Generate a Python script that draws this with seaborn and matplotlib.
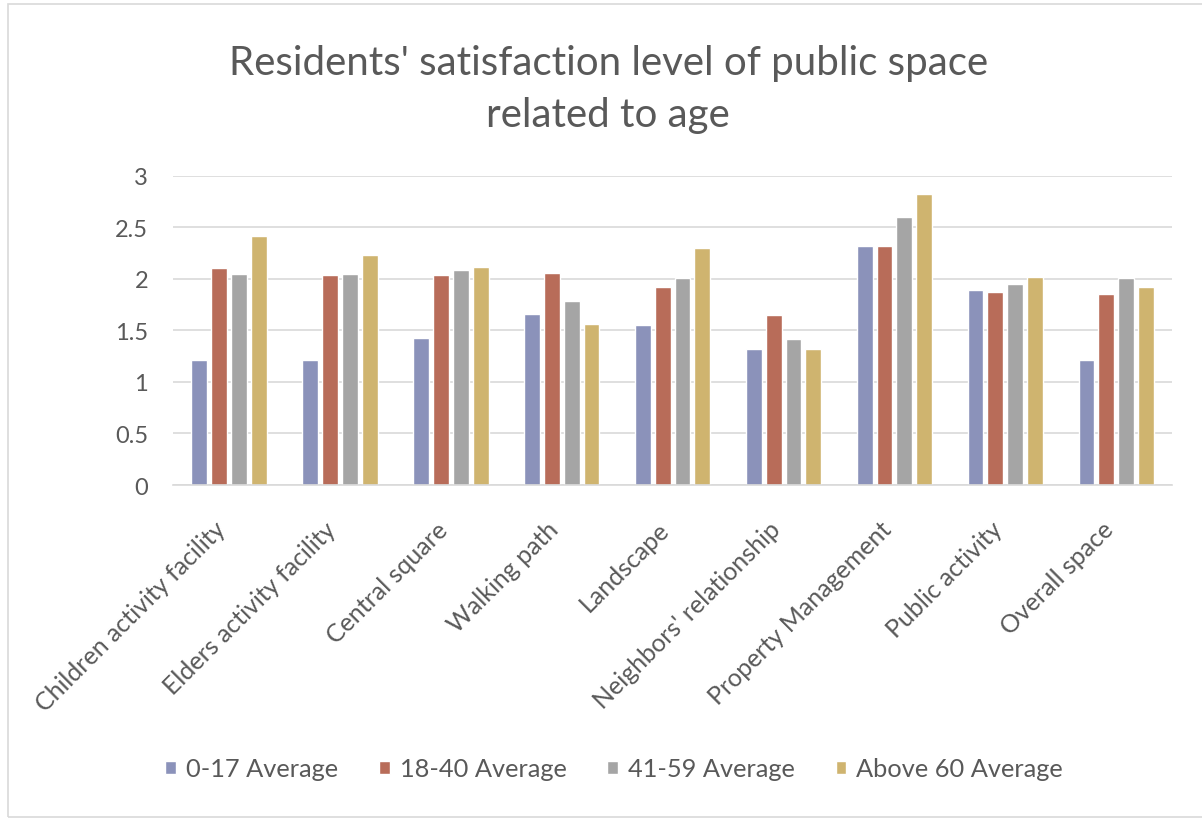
import matplotlib
matplotlib.use("Agg")
import matplotlib.pyplot as plt
from matplotlib.patches import Rectangle
from matplotlib.transforms import ScaledTranslation
import pandas as pd
import seaborn as sns

categories = [
    "Children activity facility",
    "Elders activity facility",
    "Central square",
    "Walking path",
    "Landscape",
    "Neighbors' relationship",
    "Property Management",
    "Public activity",
    "Overall space",
]
age_groups = ["0-17 Average", "18-40 Average", "41-59 Average", "Above 60 Average"]
avg_0_17 = [1.21, 1.21, 1.43, 1.66, 1.55, 1.32, 2.32, 1.89, 1.21]
avg_18_40 = [2.11, 2.04, 2.04, 2.06, 1.92, 1.65, 2.32, 1.87, 1.85]
avg_41_59 = [2.05, 2.05, 2.09, 1.79, 2.01, 1.42, 2.60, 1.95, 2.01]
avg_60_up = [2.42, 2.23, 2.12, 1.56, 2.30, 1.32, 2.82, 2.02, 1.92]
palette = ["#8B92BA", "#B86C59", "#A5A5A5", "#CFB46F"]

rows = []
for group, vals in zip(age_groups, [avg_0_17, avg_18_40, avg_41_59, avg_60_up]):
    for cat, v in zip(categories, vals):
        rows.append({"Category": cat, "Group": group, "Value": v})
df = pd.DataFrame(rows)

sns.set_theme(style="white")
text_color = "#595959"
plt.rcParams["font.family"] = ["Lato", "DejaVu Sans"]

fig = plt.figure(figsize=(12.02, 8.2), dpi=100)
ax = fig.add_axes([0.144, 0.4073, 0.831, 0.377])

sns.barplot(
    data=df, x="Category", y="Value", hue="Group",
    order=categories, hue_order=age_groups, palette=palette,
    width=0.72, gap=0.2, saturation=1, ax=ax, legend=True,
)

ax.set_ylim(0, 3)
ax.set_xlim(-0.5, len(categories) - 0.5)
ax.set_yticks([0, 0.5, 1, 1.5, 2, 2.5, 3])
ax.set_yticklabels(["0", "0.5", "1", "1.5", "2", "2.5", "3"])
ax.yaxis.grid(True, color="#D9D9D9", linewidth=1.2)
ax.set_axisbelow(True)
for side in ["top", "right", "left"]:
    ax.spines[side].set_visible(False)
ax.spines["bottom"].set_color("#D9D9D9")
ax.spines["bottom"].set_linewidth(1.2)
ax.set_xlabel("")
ax.set_ylabel("")
ax.tick_params(axis="y", length=0, pad=18, labelsize=17, labelcolor=text_color)
ax.tick_params(axis="x", length=0, pad=29, labelsize=18, labelcolor=text_color)
shift = ScaledTranslation(-5 / 72, 0, fig.dpi_scale_trans)
for lbl in ax.get_xticklabels():
    lbl.set_rotation(45)
    lbl.set_ha("right")
    lbl.set_va("center")
    lbl.set_rotation_mode("anchor")
    lbl.set_transform(lbl.get_transform() + shift)

handles, labels = ax.get_legend_handles_labels()
ax.get_legend().remove()
fig.legend(
    handles, labels, loc="center", bbox_to_anchor=(0.511, 0.061), ncol=4,
    frameon=False, fontsize=18.3, labelcolor=text_color,
    handlelength=0.42, handleheight=0.42, handletextpad=0.4, columnspacing=1.6,
)

fig.text(0.506, 0.891, "Residents' satisfaction level of public space\nrelated to age",
         ha="center", va="center", fontsize=29, color=text_color, linespacing=1.5)

fig.patches.append(Rectangle((8 / 1202, 2 / 820), 1.0, 1 - 7 / 820,
                             transform=fig.transFigure, fill=False,
                             edgecolor="#D9D9D9", linewidth=1.2))

fig.savefig("out.png", dpi=100, facecolor="white")
